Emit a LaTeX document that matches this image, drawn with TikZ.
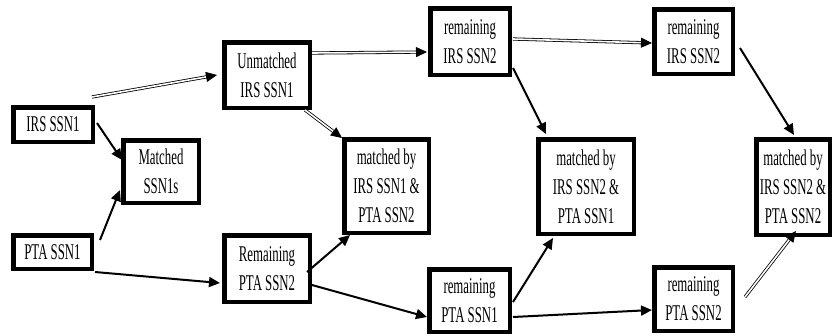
\documentclass[tikz,border=0pt]{standalone}
\usepackage{fontspec}
\setmainfont{Liberation Serif}[FakeStretch=0.57]
\usetikzlibrary{arrows.meta,calc}
\tikzset{
  box/.style={draw, line width=4.5pt, align=center, inner sep=0pt,
    font=\fontsize{22.5}{29}\selectfont},
  solidarr/.style={line width=2pt, -{Triangle[length=11pt,width=10pt]}},
  hollowarr/.style={line width=0.8pt, double=white, double distance=1.6pt,
    -{Triangle[length=11pt,width=10pt]}},
}
\newcommand{\bx}[6]{\node[box, minimum width=#4pt-4.5pt, minimum height=#5pt-4.5pt] (#1) at (#2,#3) {#6};}
\begin{document}
\begin{tikzpicture}[x=1pt,y=-1pt]
\useasboundingbox (0,0) rectangle (834,335);
\bx{a}{53}{124.5}{84}{39}{IRS SSN1}
\bx{m1}{161}{171.5}{80}{67}{Matched\\SSN1s}
\bx{p1}{52.5}{252}{83}{38}{PTA SSN1}
\bx{u1}{267}{75}{90}{70}{Unmatched\\IRS SSN1}
\bx{r2}{267}{268.5}{90}{71}{Remaining\\PTA SSN2}
\bx{mm1}{386.5}{186}{89}{98}{matched by\\IRS SSN1 \&\\PTA SSN2}
\bx{ri2}{470}{41.5}{84}{71}{remaining\\IRS SSN2}
\bx{mm2}{586}{186.5}{100}{99}{matched by\\IRS SSN2 \&\\PTA SSN1}
\bx{rp1}{469.5}{300.5}{85}{67}{remaining\\PTA SSN1}
\bx{ri3}{693.5}{41.5}{83}{69}{remaining\\IRS SSN2}
\bx{mm3}{793}{187}{78}{100}{matched by\\IRS SSN2 \&\\PTA SSN2}
\bx{rp2}{693.5}{299}{83}{68}{remaining\\PTA SSN2}

\draw[solidarr] ($(a.east)+(2,-1.5)$) -- ($(m1.north west)+(1,22)$);
\draw[solidarr] ($(p1.north east)+(6,7)$) -- ($(m1.south west)+(-1,-15)$);
\draw[solidarr] ($(p1.south east)+(1,1)$) -- ($(r2.west)+(-2,14.5)$);
\draw[hollowarr] ($(a.north east)+(-3,-8)$) -- ($(u1.west)+(-5,0)$);
\draw[hollowarr] ($(u1.south east)+(-7,0)$) -- ($(mm1.north west)+(0,1)$);
\draw[solidarr] ($(r2.east)+(-5,3.5)$) -- ($(mm1.south west)+(8,0)$);
\draw[hollowarr] ($(u1.north east)+(0,13)$) -- ($(ri2.west)+(-1,10.5)$);
\draw[solidarr] ($(r2.east)+(0,16.5)$) -- ($(rp1.west)+(0,16.5)$);
\draw[solidarr] ($(ri2.south east)+(1,-9)$) -- ($(mm2.north west)+(10,-3)$);
\draw[solidarr] ($(rp1.east)+(1,1.5)$) -- ($(mm2.south west)+(17,2)$);
\draw[hollowarr] ($(ri2.east)+(1,-2.5)$) -- ($(ri3.west)+(0,1.5)$);
\draw[solidarr] ($(rp1.east)+(1,16.5)$) -- ($(rp2.west)+(0,11)$);
\draw[solidarr] ($(ri3.east)+(5,6.5)$) -- ($(mm3.north west)+(40,-2)$);
\draw[hollowarr] ($(rp2.east)+(10,-2)$) -- ($(mm3.south west)+(42,-6)$);
\end{tikzpicture}
\end{document}
